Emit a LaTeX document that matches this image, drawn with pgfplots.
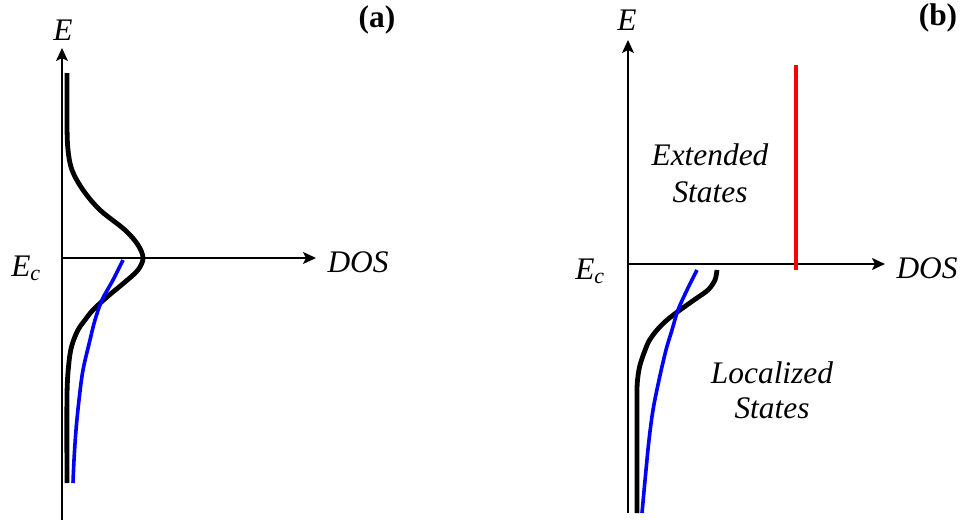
\documentclass[border=0pt]{standalone}
\usepackage{pgfplots}
\pgfplotsset{compat=1.18}
\usepackage{fontspec}
\newfontfamily\tnr{Liberation Serif}
\usetikzlibrary{arrows.meta}
\newcommand{\bigf}{\tnr\fontsize{31.5}{36}\selectfont}
\pgfplotsset{
  dosaxis/.style={
    x=1bp, y=1bp, axis lines=middle, ticks=none, clip=false,
    enlargelimits=false, anchor=origin,
    axis line style={line width=1.6bp, -{Stealth[length=13bp,width=12bp,inset=3bp]}},
  }
}
\begin{document}
\begin{tikzpicture}
\useasboundingbox (0,0) rectangle (963bp,-520bp);
% ---------- panel (a) ----------
\begin{axis}[dosaxis, at={(62bp,-258bp)}, xmin=0, xmax=254, ymin=-262, ymax=210]
\addplot[black, line width=4.8bp, smooth, tension=0.55] coordinates {
(5,185) (5,133) (6,108) (10,88) (21,68) (38,48) (63,28) (76,13) (81,0)
(76,-12) (63,-24) (45,-39) (31,-52) (23,-62) (16,-72) (10,-87) (7,-104) (5,-137) (5,-225)};
\addplot[blue, line width=3.6bp, smooth, tension=0.55] coordinates {
(61,-2) (51,-22) (40,-42) (33,-62) (28,-82) (21,-112) (17,-142) (14,-172) (12,-202) (11,-225)};
\node[font=\bigf\itshape] at (axis cs:1,228) {E};
\node[font=\bigf] at (axis cs:-36,-10) {\textit{E}\textsubscript{\textit{c}}};
\node[font=\bigf\itshape, anchor=west] at (axis cs:262,-4) {DOS};
\node[font=\bigf\bfseries] at (axis cs:315,238) {(a)};
\end{axis}
% ---------- panel (b) ----------
\begin{axis}[dosaxis, at={(628bp,-264bp)}, xmin=0, xmax=257, ymin=-249, ymax=224]
\addplot[red, line width=4bp] coordinates {(168,199) (168,-6)};
\addplot[black, line width=4.8bp, smooth, tension=0.5] coordinates {
(89,-6) (87,-16) (80,-26) (66,-36) (52,-46) (39,-56) (29,-66) (21,-77) (16,-89) (12,-101) (10,-112) (9,-125) (9,-160) (9,-249)};
\addplot[blue, line width=3.6bp, smooth, tension=0.55] coordinates {
(69,-6) (59,-26) (50,-46) (44,-66) (38,-86) (31,-116) (25,-146) (21,-176) (18,-206) (14,-249)};
\node[font=\bigf\itshape] at (axis cs:-1,244) {E};
\node[font=\bigf] at (axis cs:-38,-7) {\textit{E}\textsubscript{\textit{c}}};
\node[font=\bigf\itshape, anchor=west] at (axis cs:265,-4) {DOS};
\node[font=\bigf\bfseries] at (axis cs:310,246) {(b)};
\node[font=\bigf\itshape] at (axis cs:82,109) {Extended};
\node[font=\bigf\itshape] at (axis cs:82,72) {States};
\node[font=\bigf\itshape] at (axis cs:144,-109) {Localized};
\node[font=\bigf\itshape] at (axis cs:144,-144) {States};
\end{axis}
\end{tikzpicture}
\end{document}
